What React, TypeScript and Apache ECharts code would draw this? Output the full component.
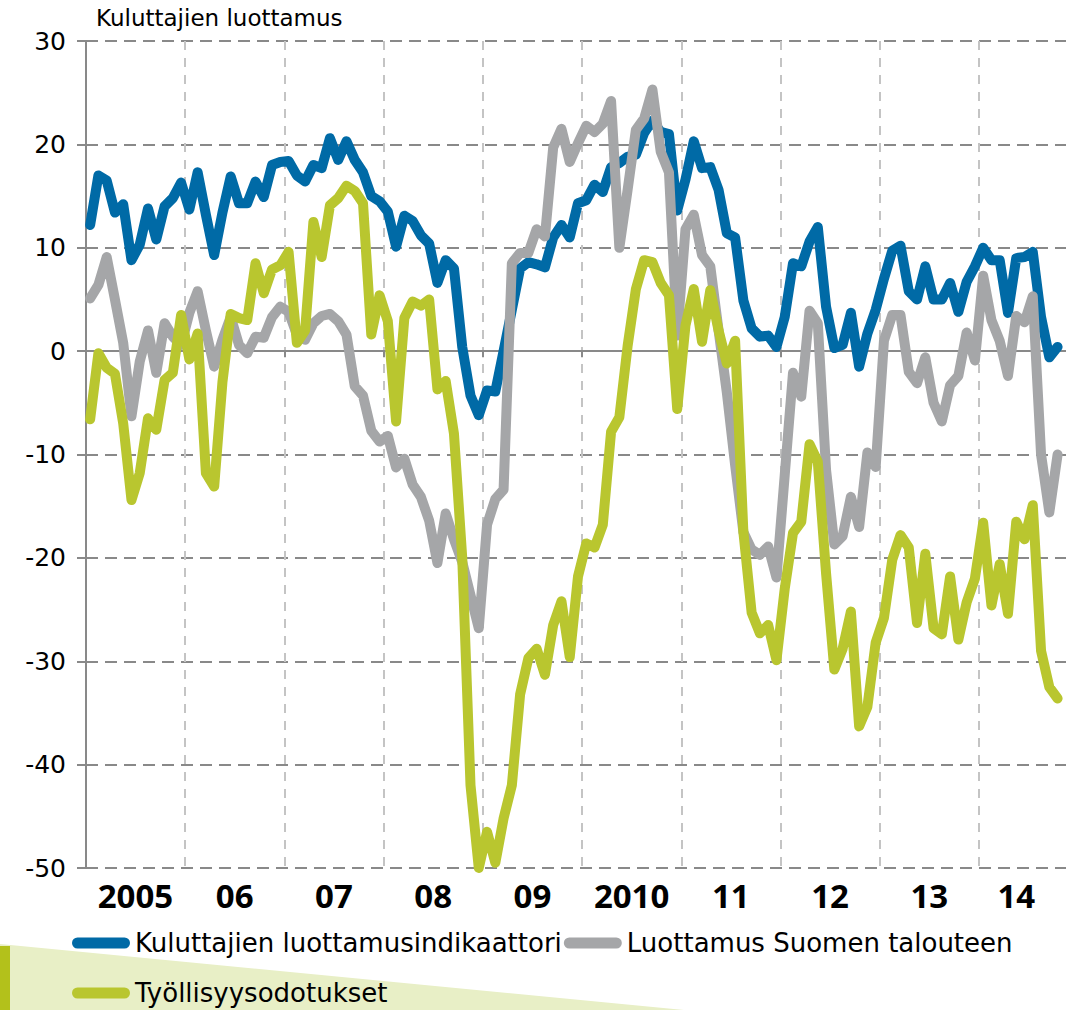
import React, { useEffect, useRef } from 'react';
import * as echarts from 'echarts';

// ---- data ----
const YEARS = [2005, 2006, 2007, 2008, 2009, 2010, 2011, 2012, 2013, 2014];
const LAST_AXIS_MONTH_OF_LAST_YEAR = 11; // axis runs one month past the last value
const CATEGORIES: string[] = [];
for (const y of YEARS) {
  for (let m = 1; m <= 12; m++) {
    if (y === 2014 && m > LAST_AXIS_MONTH_OF_LAST_YEAR) break;
    CATEGORIES.push(`${y}-${String(m).padStart(2, '0')}`);
  }
}
const YEAR_LABELS = ['2005', '06', '07', '08', '09', '2010', '11', '12', '13', '14'];
const SERIES_NAMES = ['Kuluttajien luottamusindikaattori', 'Luottamus Suomen talouteen', 'Työllisyysodotukset'];
const Y_TITLE = 'Kuluttajien luottamus';

const CONFIDENCE = [
  12.2, 17.0, 16.5, 13.4, 14.2, 8.8, 10.3, 13.8, 10.8, 14.0, 14.8, 16.3,
  13.7, 17.3, 13.2, 9.3, 13.4, 16.9, 14.3, 14.3, 16.4, 14.9, 18.0, 18.3,
  18.4, 17.0, 16.4, 18.0, 17.7, 20.6, 18.5, 20.3, 18.5, 17.3, 15.0, 14.5,
  13.5, 10.1, 13.1, 12.6, 11.2, 10.4, 6.6, 8.8, 8.0, 0.4, -4.3, -6.2,
  -3.8, -3.9, 0.0, 4.0, 8.0, 8.6, 8.4, 8.1, 11.0, 12.2, 11.0, 14.3,
  14.6, 16.1, 15.4, 17.8, 18.2, 18.8, 19.0, 21.1, 22.3, 21.2, 21.0, 13.6,
  16.6, 20.3, 17.7, 17.8, 15.6, 11.4, 11.0, 4.9, 2.2, 1.4, 1.5, 0.4,
  3.3, 8.5, 8.2, 10.6, 12.0, 4.3, 0.3, 0.6, 3.7, -1.5, 1.7, 4.0,
  7.0, 9.7, 10.2, 5.8, 5.0, 8.2, 5.0, 5.0, 6.6, 3.8, 6.7, 8.2,
  10.0, 8.8, 8.8, 3.7, 9.0, 9.1, 9.6, 3.3, -0.6, 0.4,
];
const ECONOMY = [
  5.1, 6.4, 9.1, 5.0, 0.8, -6.3, -1.0, 2.0, -2.1, 2.7, 1.4, 0.6,
  3.7, 5.8, 2.0, -1.5, 1.1, 3.3, 0.6, -0.2, 1.4, 1.3, 3.3, 4.3,
  3.8, 1.6, 1.1, 2.7, 3.4, 3.6, 2.9, 1.6, -3.4, -4.3, -7.7, -8.75,
  -8.2, -11.25, -10.4, -12.9, -14.1, -16.4, -20.5, -15.7, -18.2, -20.4, -23.6, -26.8,
  -16.8, -14.3, -13.4, 8.5, 9.5, 9.5, 11.8, 11.1, 19.7, 21.5, 18.3, 20.1,
  21.8, 21.2, 22.0, 24.2, 10.0, 15.6, 21.4, 22.5, 25.3, 19.3, 17.3, 1.5,
  11.8, 13.2, 9.3, 8.2, 2.0, -4.0, -11.0, -17.5, -19.2, -19.7, -18.9, -21.9,
  -12.0, -2.1, -4.4, 3.9, 2.7, -11.5, -18.7, -17.9, -14.1, -17.0, -9.8, -11.2,
  1.0, 3.5, 3.5, -2.0, -3.1, -0.6, -5.0, -6.8, -3.3, -2.4, 1.8, -0.9,
  7.3, 3.0, 1.0, -2.4, 3.4, 2.8, 5.3, -10.0, -15.6, -10.0,
];
const EMPLOYMENT = [
  -6.6, -0.2, -1.6, -2.2, -7.0, -14.4, -11.8, -6.5, -7.6, -2.8, -2.1, 3.5,
  -0.8, 1.7, -11.8, -13.1, -3.0, 3.6, 3.2, 3.0, 8.5, 5.6, 7.9, 8.3,
  9.6, 0.8, 2.0, 12.5, 9.1, 14.1, 14.8, 16.0, 15.5, 14.3, 1.6, 5.4,
  2.9, -6.8, 3.2, 4.8, 4.4, 5.0, -3.7, -2.9, -8.0, -20.0, -42.0, -50.0,
  -46.5, -49.5, -45.2, -42.0, -33.2, -29.7, -28.8, -31.3, -26.5, -24.2, -29.6, -21.8,
  -18.6, -19.0, -16.8, -7.8, -6.4, 0.5, 6.0, 8.8, 8.6, 6.6, 5.4, -5.6,
  2.5, 6.0, 0.9, 5.9, 2.0, -1.2, 1.0, -17.5, -25.3, -27.3, -26.5, -29.9,
  -23.0, -17.6, -16.5, -9.0, -10.7, -21.5, -30.8, -28.8, -25.2, -36.3, -34.4, -28.2,
  -25.8, -20.2, -17.8, -19.0, -26.3, -19.6, -26.8, -27.4, -21.8, -27.9, -24.3, -22.0,
  -16.6, -24.6, -20.6, -25.4, -16.5, -18.2, -14.9, -29.0, -32.5, -33.6,
];
const Y_MIN = -50;
const Y_MAX = 30;
const Y_STEP = 10;

// ---- styling ----
const COLORS = ['#006aa6', '#a5a6a8', '#b9c62f'];
const AXIS_GRAY = '#898989';
const PILL = 'path://M5.5,0H52.5A5.5,5.5,0,0,1,52.5,11H5.5A5.5,5.5,0,0,1,5.5,0Z';

const LAST_LABEL_INDEX = (YEAR_LABELS.length - 1) * 12 + 4;
const labelIndex = new Map<number, string>();
YEAR_LABELS.forEach((lab, yi) => {
  const start = yi * 12;
  const idx = yi === YEAR_LABELS.length - 1 ? LAST_LABEL_INDEX : start + 5;
  labelIndex.set(idx, lab);
});

export default function App() {
  const ref = useRef<HTMLDivElement>(null);
  useEffect(() => {
    if (!ref.current) return;
    const chart = echarts.init(ref.current, undefined, { renderer: 'svg' });
    const yearFont = { fontFamily: 'Open Sans', fontWeight: 'bold' as const, fontSize: 33, color: '#000' };
    const legendText = { fontFamily: 'DejaVu Sans', fontSize: 26, color: '#000', lineHeight: 30 };
    chart.setOption({
      animation: false,
      color: COLORS,
      title: {
        text: Y_TITLE,
        left: 96,
        top: 6,
        padding: 0,
        textStyle: { fontFamily: 'DejaVu Sans', fontSize: 23, fontWeight: 'normal', color: '#000' },
      },
      graphic: [
        { type: 'polygon', z: -10, shape: { points: [[0, 944], [684, 1010], [0, 1010]] }, style: { fill: '#e8efc6' } },
        { type: 'rect', z: -9, shape: { x: 0, y: 946, width: 10, height: 64 }, style: { fill: '#b3c11b' } },
        // the picture is cropped at the right: hide the axis-end boundary line
        { type: 'rect', z: 1, shape: { x: 1066, y: 30, width: 4, height: 850 }, style: { fill: '#ffffff' } },
      ],
      legend: [
        {
          data: [SERIES_NAMES[0], SERIES_NAMES[1]],
          left: 72, top: 928, padding: 0, itemGap: 2,
          itemWidth: 58, itemHeight: 11, icon: PILL,
          selectedMode: false, textStyle: legendText,
        },
        {
          data: [SERIES_NAMES[2]],
          left: 72, top: 978, padding: 0,
          itemWidth: 58, itemHeight: 11, icon: PILL,
          selectedMode: false, textStyle: legendText,
        },
      ],
      grid: { left: 86, top: 41, width: 984, height: 827, containLabel: false },
      xAxis: [
        {
          type: 'category',
          data: CATEGORIES,
          position: 'bottom',
          axisLine: { show: false, onZero: false },
          axisTick: { show: false },
          axisLabel: {
            interval: (i: number) => labelIndex.has(i),
            margin: 11,
            formatter: (_v: string, i: number) => {
              const lab = labelIndex.get(i) || '';
              return i === LAST_LABEL_INDEX ? `{b|${lab}}` : `{a|${lab}}`;
            },
            rich: {
              a: { ...yearFont, padding: [0, 0, 0, 8] },
              b: { ...yearFont },
            },
          },
          splitLine: {
            show: true,
            interval: (i: number) => i % 12 === 0,
            lineStyle: { color: '#c4c4c4', width: 2, type: [9, 8] },
          },
        },
        {
          type: 'category',
          data: CATEGORIES,
          position: 'bottom',
          axisLine: { show: true, onZero: true, lineStyle: { color: AXIS_GRAY, width: 2 } },
          axisTick: { show: true, interval: (i: number) => i % 12 === 0, length: 6, lineStyle: { color: AXIS_GRAY, width: 2 } },
          axisLabel: { show: false },
          splitLine: { show: false },
        },
      ],
      yAxis: {
        type: 'value',
        min: Y_MIN,
        max: Y_MAX,
        interval: Y_STEP,
        axisLine: { show: true, lineStyle: { color: AXIS_GRAY, width: 2 } },
        axisTick: { show: true, length: 9, lineStyle: { color: AXIS_GRAY, width: 2 } },
        axisLabel: { margin: 20, fontFamily: 'DejaVu Sans', fontSize: 25, color: '#000' },
        splitLine: { show: true, lineStyle: { color: AXIS_GRAY, width: 2, type: [12, 7] } },
      },
      series: [
        { name: SERIES_NAMES[0], data: CONFIDENCE },
        { name: SERIES_NAMES[1], data: ECONOMY },
        { name: SERIES_NAMES[2], data: EMPLOYMENT },
      ].map((s, i) => ({
        ...s,
        type: 'line',
        xAxisIndex: 0,
        showSymbol: false,
        symbol: 'none',
        clip: false,
        lineStyle: { width: 10, color: COLORS[i], cap: 'round', join: 'round' },
        itemStyle: { color: COLORS[i] },
        z: 2 + i,
      })),
    });
    return () => chart.dispose();
  }, []);
  return <div ref={ref} style={{ position: 'absolute', left: 0, top: 0, width: 1070, height: 1010 }} />;
}
